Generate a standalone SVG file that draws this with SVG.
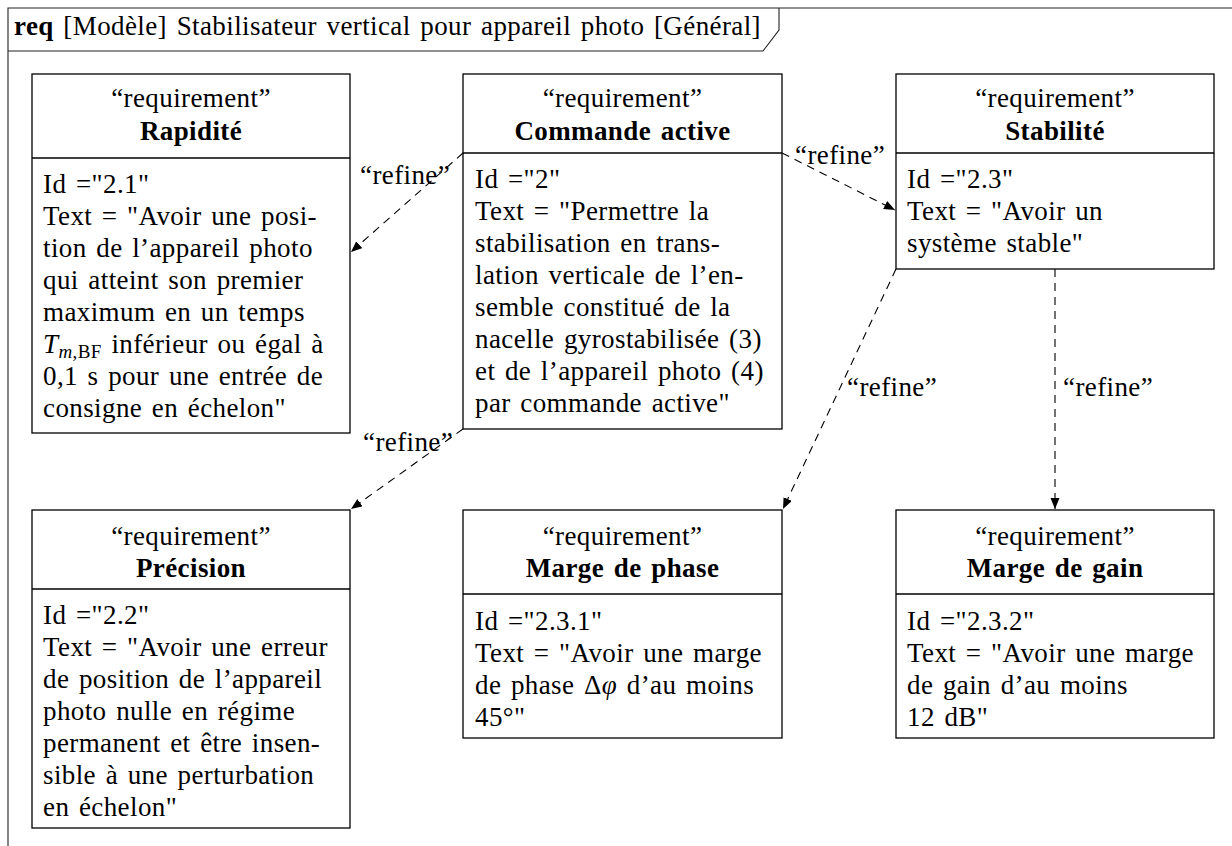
<svg xmlns="http://www.w3.org/2000/svg" width="1232" height="846" viewBox="0 0 1232 846">
<style>
.t{font-family:"Liberation Serif","Times New Roman",serif;font-size:27px;letter-spacing:0.4px;word-spacing:2.5px;fill:#000}
.c{text-anchor:middle}
.b{font-weight:bold}
.box{fill:#fff;stroke:#000;stroke-width:1.3}
.div{stroke:#000;stroke-width:1.3}
.frame{fill:none;stroke:#222;stroke-width:1.1}
.conn{fill:none;stroke:#000;stroke-width:1.1;stroke-dasharray:8 6}
.i{font-style:italic}
</style>
<defs>
<marker id="arr" markerWidth="12" markerHeight="10" refX="11" refY="4.5" orient="auto" markerUnits="userSpaceOnUse">
<path d="M0,0 L11,4.5 L0,9 z" fill="#000"/>
</marker>
</defs>
<g id="frame">
<path class="frame" d="M8,846 L8,8 L1232,8"/>
<path class="frame" d="M8,51 L763,51 L779,30 L779,8"/>
<text class="t" x="14" y="35"><tspan class="b">req</tspan> [Modèle] Stabilisateur vertical pour appareil photo [Général]</text>
</g>
<g id="connectors">
<line class="conn" x1="463" y1="153" x2="351" y2="252" marker-end="url(#arr)"/>
<line class="conn" x1="463" y1="429" x2="351" y2="509" marker-end="url(#arr)"/>
<line class="conn" x1="782" y1="153" x2="895" y2="210" marker-end="url(#arr)"/>
<line class="conn" x1="896" y1="269" x2="783" y2="509" marker-end="url(#arr)"/>
<line class="conn" x1="1055" y1="269" x2="1055" y2="509" marker-end="url(#arr)"/>
<text class="t" x="360" y="184">“refine”</text>
<text class="t" x="363" y="451">“refine”</text>
<text class="t" x="795" y="164">“refine”</text>
<text class="t" x="847" y="396">“refine”</text>
<text class="t" x="1063" y="396">“refine”</text>
</g>
<g id="rapidite">
<rect class="box" x="32" y="74" width="318" height="359"/>
<line class="div" x1="32" y1="158" x2="350" y2="158"/>
<text class="t c" x="191" y="107">“requirement”</text>
<text class="t c b" x="191" y="140">Rapidité</text>
<text class="t" x="43" y="193">Id ="2.1"</text>
<text class="t" x="43" y="225">Text = "Avoir une posi-</text>
<text class="t" x="43" y="257">tion de l’appareil photo</text>
<text class="t" x="43" y="289">qui atteint son premier</text>
<text class="t" x="43" y="321">maximum en un temps</text>
<text class="t" x="43" y="353"><tspan class="i">T</tspan><tspan font-size="19" dy="5"><tspan class="i">m</tspan>,BF</tspan><tspan dy="-5"> inférieur ou égal à</tspan></text>
<text class="t" x="43" y="385">0,1 s pour une entrée de</text>
<text class="t" x="43" y="417">consigne en échelon"</text>
</g>
<g id="commande">
<rect class="box" x="463" y="74" width="319" height="355"/>
<line class="div" x1="463" y1="153" x2="782" y2="153"/>
<text class="t c" x="622.5" y="107">“requirement”</text>
<text class="t c b" x="622.5" y="140">Commande active</text>
<text class="t" x="475" y="188">Id ="2"</text>
<text class="t" x="475" y="220">Text = "Permettre la</text>
<text class="t" x="475" y="252">stabilisation en trans-</text>
<text class="t" x="475" y="284">lation verticale de l’en-</text>
<text class="t" x="475" y="316">semble constitué de la</text>
<text class="t" x="475" y="348">nacelle gyrostabilisée (3)</text>
<text class="t" x="475" y="380">et de l’appareil photo (4)</text>
<text class="t" x="475" y="412">par commande active"</text>
</g>
<g id="stabilite">
<rect class="box" x="896" y="74" width="318" height="195"/>
<line class="div" x1="896" y1="153" x2="1214" y2="153"/>
<text class="t c" x="1055" y="107">“requirement”</text>
<text class="t c b" x="1055" y="140">Stabilité</text>
<text class="t" x="907" y="188">Id ="2.3"</text>
<text class="t" x="907" y="220">Text = "Avoir un</text>
<text class="t" x="907" y="252">système stable"</text>
</g>
<g id="precision">
<rect class="box" x="32" y="510" width="318" height="318"/>
<line class="div" x1="32" y1="589" x2="350" y2="589"/>
<text class="t c" x="191" y="545">“requirement”</text>
<text class="t c b" x="191" y="577">Précision</text>
<text class="t" x="43" y="624">Id ="2.2"</text>
<text class="t" x="43" y="656">Text = "Avoir une erreur</text>
<text class="t" x="43" y="688">de position de l’appareil</text>
<text class="t" x="43" y="720">photo nulle en régime</text>
<text class="t" x="43" y="752">permanent et être insen-</text>
<text class="t" x="43" y="784">sible à une perturbation</text>
<text class="t" x="43" y="816">en échelon"</text>
</g>
<g id="marge-phase">
<rect class="box" x="463" y="510" width="319" height="228"/>
<line class="div" x1="463" y1="594" x2="782" y2="594"/>
<text class="t c" x="622.5" y="545">“requirement”</text>
<text class="t c b" x="622.5" y="577">Marge de phase</text>
<text class="t" x="475" y="630">Id ="2.3.1"</text>
<text class="t" x="475" y="662">Text = "Avoir une marge</text>
<text class="t" x="475" y="694">de phase Δ<tspan class="i">φ</tspan> d’au moins</text>
<text class="t" x="475" y="726">45°"</text>
</g>
<g id="marge-gain">
<rect class="box" x="896" y="510" width="318" height="228"/>
<line class="div" x1="896" y1="594" x2="1214" y2="594"/>
<text class="t c" x="1055" y="545">“requirement”</text>
<text class="t c b" x="1055" y="577">Marge de gain</text>
<text class="t" x="907" y="630">Id ="2.3.2"</text>
<text class="t" x="907" y="662">Text = "Avoir une marge</text>
<text class="t" x="907" y="694">de gain d’au moins</text>
<text class="t" x="907" y="726">12 dB"</text>
</g>
</svg>
